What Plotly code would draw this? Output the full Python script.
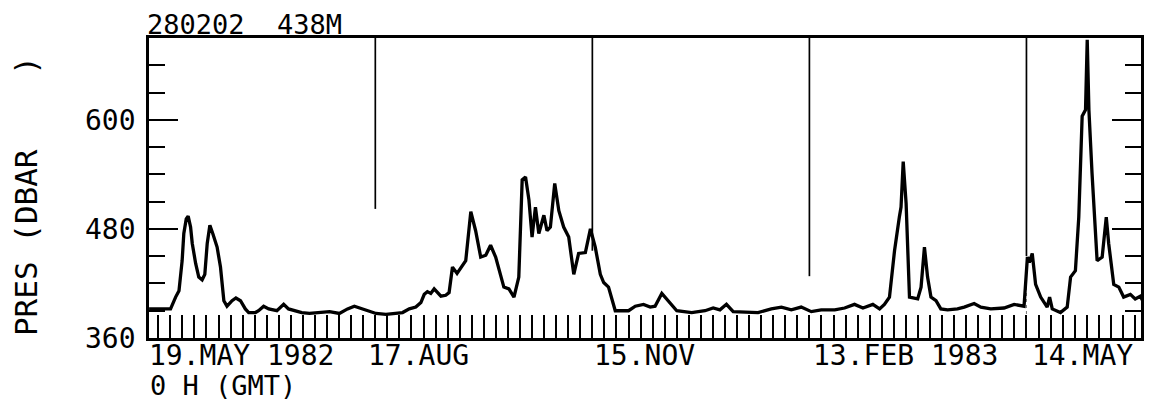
import pandas as pd
import plotly.graph_objects as go

# ---------------- data ----------------
start_date = "1982-05-19"          # 19.MAY 1982 0 H (GMT)

# days after the start date
day_offsets = [
    -3.8, 5.1, 7.2, 8.6, 9.9, 10.6, 11.6, 12.4, 13.4, 14.1, 15.5, 16.8, 18.2, 19.3, 20.3,
    21.4, 22.6, 24.4, 25.8, 27.2, 28.5, 30.6, 32.2, 34.1, 36.1, 37.5, 40.3, 41.6, 43.7, 45.8,
    49.2, 52.0, 54.0, 56.8, 59.5, 62.7, 66.9, 71.0, 75.1, 78.5, 81.3, 83.4, 86.2, 90.3, 94.4,
    98.6, 101.3, 104.1, 106.8, 108.9, 110.3, 111.6, 113.0, 114.4, 115.8, 117.2, 119.2, 120.6, 122.0, 123.9,
    127.5, 129.6, 131.6, 133.7, 135.8, 137.8, 139.9, 143.3, 145.4, 147.5, 149.5, 150.9, 152.3, 153.7, 155.0,
    156.4, 157.8, 159.9, 161.2, 162.6, 164.4, 166.1, 168.1, 170.2, 172.3, 174.3, 177.1, 179.2, 181.2, 183.3,
    184.7, 186.7, 189.5, 195.0, 197.8, 201.2, 204.0, 206.0, 208.8, 212.2, 215.0, 221.2, 226.7, 230.1, 232.9,
    235.6, 238.4, 248.7, 254.2, 258.4, 262.5, 266.6, 270.8, 274.9, 280.5, 284.6, 288.7, 292.2, 296.3, 299.1,
    301.1, 303.2, 305.3, 307.3, 308.0, 308.9, 310.1, 311.5, 314.9, 316.3, 317.7, 319.0, 320.4, 322.5, 324.5,
    327.3, 331.4, 334.2, 338.3, 341.1, 345.2, 350.7, 354.9, 359.0, 360.4, 361.2, 362.4, 363.8, 365.9, 368.6,
    369.6, 370.7, 374.1, 376.9, 378.3, 380.3, 381.7, 383.1, 384.5, 385.2, 385.9, 387.2, 388.6, 389.3, 391.4,
    393.1, 394.1, 396.2, 398.3, 400.3, 403.1, 405.1, 407.2, 408.6, 410.8,
]

# pressure (dbar)
pres_dbar = [
    392, 392, 405, 412, 445, 475, 491, 494, 482, 464, 442, 427, 424, 430, 464,
    484, 475, 460, 438, 401, 395, 401, 404, 401, 392, 388, 388, 390, 395, 392,
    390, 397, 392, 390, 388, 387, 388, 389, 387, 392, 395, 393, 390, 387, 386,
    387, 388, 392, 394, 399, 408, 411, 409, 414, 410, 406, 407, 410, 438, 431,
    445, 499, 478, 449, 451, 462, 449, 416, 414, 405, 427, 534, 537, 512, 471,
    504, 475, 495, 478, 482, 530, 500, 482, 471, 430, 453, 454, 480, 460, 430,
    421, 416, 390, 390, 395, 397, 394, 395, 409, 399, 390, 388, 390, 393, 391,
    397, 389, 388, 392, 394, 391, 394, 389, 391, 391, 393, 397, 393, 397, 392,
    397, 405, 456, 493, 504, 554, 508, 405, 403, 416, 460, 427, 405, 401, 392,
    391, 392, 394, 398, 394, 392, 393, 397, 395, 449, 443, 453, 419, 405, 394,
    405, 392, 388, 394, 427, 434, 493, 604, 611, 688, 611, 541, 478, 445, 449,
    493, 464, 419, 416, 405, 408, 403, 406, 399, 405,
]
assert len(day_offsets) == len(pres_dbar)

label_dates = ["1982-05-19", "1982-08-17", "1982-11-15", "1983-02-13", "1983-05-14"]
label_texts = ["19.MAY 1982", "17.AUG", "15.NOV", "13.FEB 1983", "14.MAY"]

marker_dates = ["1982-08-17", "1982-11-15", "1983-02-13", "1983-05-14"]
marker_bottoms = [502, 456, 428, 450]

y_major = [360, 480, 600]
title_text = "280202  438M"
ytitle_text = "PRES (DBAR    )"
time_note = "0 H (GMT)"

# ---------------- figure ----------------
base = pd.Timestamp(start_date)
times = [base + pd.Timedelta(days=d) for d in day_offsets]

FONT = "DejaVu Sans Mono"
fig = go.Figure()

# vertical marker lines (90-day marks)
for d, yb in zip(marker_dates, marker_bottoms):
    fig.add_trace(go.Scatter(x=[d, d], y=[yb, 690], mode="lines",
                             line=dict(color="black", width=1.7), hoverinfo="skip"))
fig.add_trace(go.Scatter(x=[marker_dates[-1], marker_dates[-1]], y=[360, marker_bottoms[-1]],
                         mode="lines", line=dict(color="#777777", width=1, dash="dot"),
                         hoverinfo="skip"))

fig.add_trace(go.Scatter(x=times, y=pres_dbar, mode="lines",
                         line=dict(color="black", width=3.3), hoverinfo="skip"))

x0 = base - pd.Timedelta(days=3.84)
x1 = base + pd.Timedelta(days=407.5)

fig.update_layout(
    width=1136, height=393,
    margin=dict(l=141, r=0, t=30, b=63),
    paper_bgcolor="white", plot_bgcolor="white",
    showlegend=False,
    font=dict(family=FONT, color="black"),
    xaxis=dict(
        type="date", range=[x0, x1],
        showgrid=False, zeroline=False,
        showline=True, linecolor="black", linewidth=2.8, mirror=True,
        ticks="inside", ticklen=23, tickwidth=2.4, tickcolor="black",
        tick0=start_date, dtick=5 * 86400000,
        showticklabels=False,
    ),
    yaxis=dict(
        range=[360, 690],
        showgrid=False, zeroline=False,
        showline=True, linecolor="black", linewidth=2.6, mirror="ticks",
        ticks="inside", tickvals=y_major, ticklen=29, tickwidth=2.2, tickcolor="black",
        minor=dict(tick0=360, dtick=30, ticks="inside", ticklen=16, tickwidth=2.2,
                   tickcolor="black", showgrid=False),
        tickfont=dict(family=FONT, size=28, color="black"),
        ticklabelstandoff=5,
    ),
)

ann = []
ann.append(dict(text=title_text, xref="paper", yref="paper", x=0, y=1,
                xanchor="left", yanchor="bottom", showarrow=False, xshift=-3, yshift=-3,
                borderpad=0, font=dict(family=FONT, size=27, color="black")))
ann.append(dict(text=ytitle_text, xref="paper", yref="paper", x=0, y=0.473,
                xanchor="center", yanchor="middle", textangle=-90, showarrow=False,
                borderpad=0, xshift=-123, font=dict(family=FONT, size=31, color="black")))
shifts = [-11, -9, 0, 2, 4]
for d, t, s in zip(label_dates, label_texts, shifts):
    ann.append(dict(text=t, xref="x", yref="paper", x=d, y=0,
                    xanchor="left", yanchor="top", showarrow=False, xshift=s, yshift=1,
                    font=dict(family=FONT, size=28, color="black")))
ann.append(dict(text=time_note, xref="x", yref="paper", x=label_dates[0], y=0,
                xanchor="left", yanchor="top", showarrow=False, xshift=-9, yshift=-31,
                borderpad=0, font=dict(family=FONT, size=27, color="black")))
fig.update_layout(annotations=ann)

fig.write_html("out.html")
